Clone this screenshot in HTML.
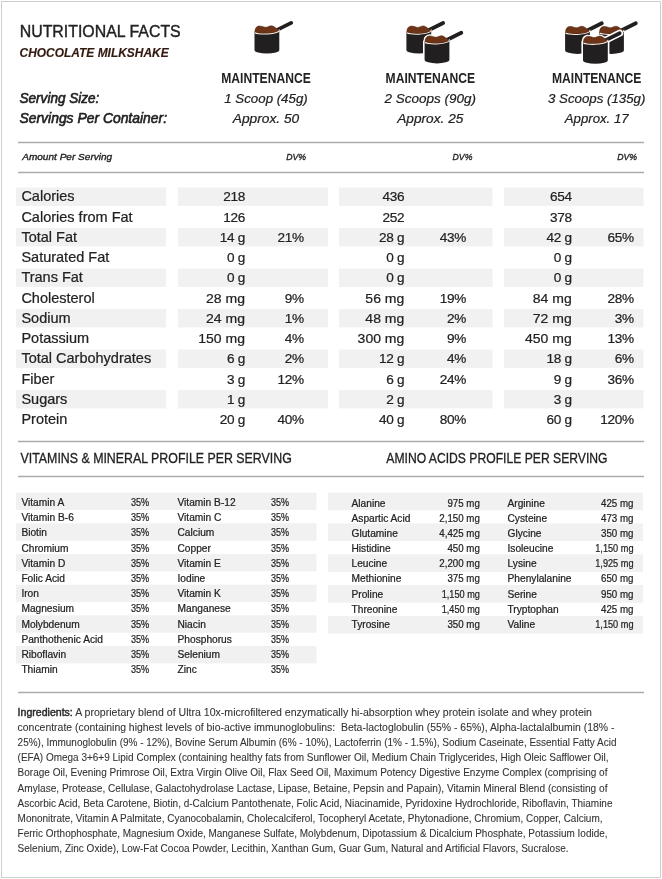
<!DOCTYPE html>
<html><head><meta charset="utf-8"><title>Nutritional Facts</title>
<style>
html,body{margin:0;padding:0;background:#fff;}
body{width:662px;height:879px;overflow:hidden;font-family:"Liberation Sans", sans-serif;}
svg{display:block;font-family:"Liberation Sans", sans-serif;will-change:transform;}
</style></head>
<body>
<svg width="662" height="879" viewBox="0 0 662 879" fill="#222">

<rect x="1.5" y="1.5" width="659" height="876" fill="none" stroke="#cfcfcf" stroke-width="1"/>
<text x="19.70" y="36.75" font-size="16.8" textLength="161.00" lengthAdjust="spacingAndGlyphs" stroke="#222" stroke-width="0.4">NUTRITIONAL FACTS</text>
<text x="19.60" y="57.40" font-size="13.2" font-weight="bold" font-style="italic" fill="#33190f" textLength="149.00" lengthAdjust="spacingAndGlyphs" stroke="#33190f" stroke-width="0.15">CHOCOLATE MILKSHAKE</text>
<text x="19.50" y="103.00" font-size="13.8" font-style="italic" textLength="79.90" lengthAdjust="spacingAndGlyphs" stroke="#222" stroke-width="0.6">Serving Size:</text>
<text x="19.50" y="122.60" font-size="13.8" font-style="italic" textLength="147.50" lengthAdjust="spacingAndGlyphs" stroke="#222" stroke-width="0.6">Servings Per Container:</text>
<text x="266.00" y="82.80" font-size="13.8" font-weight="bold" text-anchor="middle" textLength="89.50" lengthAdjust="spacingAndGlyphs">MAINTENANCE</text>
<text x="430.30" y="82.80" font-size="13.8" font-weight="bold" text-anchor="middle" textLength="89.50" lengthAdjust="spacingAndGlyphs">MAINTENANCE</text>
<text x="596.70" y="82.80" font-size="13.8" font-weight="bold" text-anchor="middle" textLength="89.50" lengthAdjust="spacingAndGlyphs">MAINTENANCE</text>
<text x="266.00" y="103.00" font-size="13.4" font-style="italic" text-anchor="middle" textLength="83.40" lengthAdjust="spacingAndGlyphs" stroke="#222" stroke-width="0.22">1 Scoop (45g)</text>
<text x="430.30" y="103.00" font-size="13.4" font-style="italic" text-anchor="middle" textLength="91.50" lengthAdjust="spacingAndGlyphs" stroke="#222" stroke-width="0.22">2 Scoops (90g)</text>
<text x="596.70" y="103.00" font-size="13.4" font-style="italic" text-anchor="middle" textLength="97.40" lengthAdjust="spacingAndGlyphs" stroke="#222" stroke-width="0.22">3 Scoops (135g)</text>
<text x="266.00" y="123.40" font-size="13.4" font-style="italic" text-anchor="middle" textLength="66.50" lengthAdjust="spacingAndGlyphs" stroke="#222" stroke-width="0.22">Approx. 50</text>
<text x="430.30" y="123.40" font-size="13.4" font-style="italic" text-anchor="middle" textLength="66.10" lengthAdjust="spacingAndGlyphs" stroke="#222" stroke-width="0.22">Approx. 25</text>
<text x="596.70" y="123.40" font-size="13.4" font-style="italic" text-anchor="middle" textLength="63.80" lengthAdjust="spacingAndGlyphs" stroke="#222" stroke-width="0.22">Approx. 17</text>
<rect x="18" y="141" width="626" height="1" fill="#ebebeb"/>
<rect x="18" y="143" width="626" height="1" fill="#ececec"/>
<rect x="18" y="142" width="626" height="1" fill="#aaaaaa"/>
<rect x="18" y="171" width="626" height="1" fill="#ebebeb"/>
<rect x="18" y="173" width="626" height="1" fill="#ececec"/>
<rect x="18" y="172" width="626" height="1" fill="#aaaaaa"/>
<text x="22.20" y="159.60" font-size="9.6" font-style="italic" textLength="90.00" lengthAdjust="spacingAndGlyphs" stroke="#222" stroke-width="0.35">Amount Per Serving</text>
<text x="306.00" y="159.60" font-size="9.6" font-style="italic" text-anchor="end" textLength="19.80" lengthAdjust="spacingAndGlyphs" stroke="#222" stroke-width="0.35">DV%</text>
<text x="472.40" y="159.60" font-size="9.6" font-style="italic" text-anchor="end" textLength="19.80" lengthAdjust="spacingAndGlyphs" stroke="#222" stroke-width="0.35">DV%</text>
<text x="637.00" y="159.60" font-size="9.6" font-style="italic" text-anchor="end" textLength="19.80" lengthAdjust="spacingAndGlyphs" stroke="#222" stroke-width="0.35">DV%</text>
<rect x="16" y="187.6" width="150" height="18.3" fill="#f1f1f1"/>
<rect x="178" y="187.6" width="150" height="18.3" fill="#f1f1f1"/>
<rect x="339" y="187.6" width="153.5" height="18.3" fill="#f1f1f1"/>
<rect x="504" y="187.6" width="139.5" height="18.3" fill="#f1f1f1"/>
<rect x="16" y="228.1" width="150" height="18.3" fill="#f1f1f1"/>
<rect x="178" y="228.1" width="150" height="18.3" fill="#f1f1f1"/>
<rect x="339" y="228.1" width="153.5" height="18.3" fill="#f1f1f1"/>
<rect x="504" y="228.1" width="139.5" height="18.3" fill="#f1f1f1"/>
<rect x="16" y="268.6" width="150" height="18.3" fill="#f1f1f1"/>
<rect x="178" y="268.6" width="150" height="18.3" fill="#f1f1f1"/>
<rect x="339" y="268.6" width="153.5" height="18.3" fill="#f1f1f1"/>
<rect x="504" y="268.6" width="139.5" height="18.3" fill="#f1f1f1"/>
<rect x="16" y="309.1" width="150" height="18.3" fill="#f1f1f1"/>
<rect x="178" y="309.1" width="150" height="18.3" fill="#f1f1f1"/>
<rect x="339" y="309.1" width="153.5" height="18.3" fill="#f1f1f1"/>
<rect x="504" y="309.1" width="139.5" height="18.3" fill="#f1f1f1"/>
<rect x="16" y="349.6" width="150" height="18.3" fill="#f1f1f1"/>
<rect x="178" y="349.6" width="150" height="18.3" fill="#f1f1f1"/>
<rect x="339" y="349.6" width="153.5" height="18.3" fill="#f1f1f1"/>
<rect x="504" y="349.6" width="139.5" height="18.3" fill="#f1f1f1"/>
<rect x="16" y="390.1" width="150" height="18.3" fill="#f1f1f1"/>
<rect x="178" y="390.1" width="150" height="18.3" fill="#f1f1f1"/>
<rect x="339" y="390.1" width="153.5" height="18.3" fill="#f1f1f1"/>
<rect x="504" y="390.1" width="139.5" height="18.3" fill="#f1f1f1"/>
<text x="21.40" y="201.30" font-size="14.5" stroke="#222" stroke-width="0.22">Calories</text>
<text x="245.00" y="201.30" font-size="13.6" text-anchor="end" letter-spacing="-0.3" stroke="#222" stroke-width="0.22">218</text>
<text x="404.30" y="201.30" font-size="13.6" text-anchor="end" letter-spacing="-0.3" stroke="#222" stroke-width="0.22">436</text>
<text x="571.70" y="201.30" font-size="13.6" text-anchor="end" letter-spacing="-0.3" stroke="#222" stroke-width="0.22">654</text>
<text x="21.40" y="221.57" font-size="14.5" stroke="#222" stroke-width="0.22">Calories from Fat</text>
<text x="245.00" y="221.57" font-size="13.6" text-anchor="end" letter-spacing="-0.3" stroke="#222" stroke-width="0.22">126</text>
<text x="404.30" y="221.57" font-size="13.6" text-anchor="end" letter-spacing="-0.3" stroke="#222" stroke-width="0.22">252</text>
<text x="571.70" y="221.57" font-size="13.6" text-anchor="end" letter-spacing="-0.3" stroke="#222" stroke-width="0.22">378</text>
<text x="21.40" y="241.84" font-size="14.5" stroke="#222" stroke-width="0.22">Total Fat</text>
<text x="245.00" y="241.84" font-size="13.6" text-anchor="end" letter-spacing="-0.3" stroke="#222" stroke-width="0.22">14 g</text>
<text x="303.70" y="241.84" font-size="13.6" text-anchor="end" letter-spacing="-0.3" stroke="#222" stroke-width="0.22">21%</text>
<text x="404.30" y="241.84" font-size="13.6" text-anchor="end" letter-spacing="-0.3" stroke="#222" stroke-width="0.22">28 g</text>
<text x="466.00" y="241.84" font-size="13.6" text-anchor="end" letter-spacing="-0.3" stroke="#222" stroke-width="0.22">43%</text>
<text x="571.70" y="241.84" font-size="13.6" text-anchor="end" letter-spacing="-0.3" stroke="#222" stroke-width="0.22">42 g</text>
<text x="633.80" y="241.84" font-size="13.6" text-anchor="end" letter-spacing="-0.3" stroke="#222" stroke-width="0.22">65%</text>
<text x="21.40" y="262.11" font-size="14.5" stroke="#222" stroke-width="0.22">Saturated Fat</text>
<text x="245.00" y="262.11" font-size="13.6" text-anchor="end" letter-spacing="-0.3" stroke="#222" stroke-width="0.22">0 g</text>
<text x="404.30" y="262.11" font-size="13.6" text-anchor="end" letter-spacing="-0.3" stroke="#222" stroke-width="0.22">0 g</text>
<text x="571.70" y="262.11" font-size="13.6" text-anchor="end" letter-spacing="-0.3" stroke="#222" stroke-width="0.22">0 g</text>
<text x="21.40" y="282.38" font-size="14.5" stroke="#222" stroke-width="0.22">Trans Fat</text>
<text x="245.00" y="282.38" font-size="13.6" text-anchor="end" letter-spacing="-0.3" stroke="#222" stroke-width="0.22">0 g</text>
<text x="404.30" y="282.38" font-size="13.6" text-anchor="end" letter-spacing="-0.3" stroke="#222" stroke-width="0.22">0 g</text>
<text x="571.70" y="282.38" font-size="13.6" text-anchor="end" letter-spacing="-0.3" stroke="#222" stroke-width="0.22">0 g</text>
<text x="21.40" y="302.65" font-size="14.5" stroke="#222" stroke-width="0.22">Cholesterol</text>
<text x="245.00" y="302.65" font-size="13.6" text-anchor="end" textLength="38.91" lengthAdjust="spacingAndGlyphs" stroke="#222" stroke-width="0.22">28 mg</text>
<text x="303.70" y="302.65" font-size="13.6" text-anchor="end" letter-spacing="-0.3" stroke="#222" stroke-width="0.22">9%</text>
<text x="404.30" y="302.65" font-size="13.6" text-anchor="end" textLength="38.91" lengthAdjust="spacingAndGlyphs" stroke="#222" stroke-width="0.22">56 mg</text>
<text x="466.00" y="302.65" font-size="13.6" text-anchor="end" letter-spacing="-0.3" stroke="#222" stroke-width="0.22">19%</text>
<text x="571.70" y="302.65" font-size="13.6" text-anchor="end" textLength="38.91" lengthAdjust="spacingAndGlyphs" stroke="#222" stroke-width="0.22">84 mg</text>
<text x="633.80" y="302.65" font-size="13.6" text-anchor="end" letter-spacing="-0.3" stroke="#222" stroke-width="0.22">28%</text>
<text x="21.40" y="322.92" font-size="14.5" stroke="#222" stroke-width="0.22">Sodium</text>
<text x="245.00" y="322.92" font-size="13.6" text-anchor="end" textLength="38.91" lengthAdjust="spacingAndGlyphs" stroke="#222" stroke-width="0.22">24 mg</text>
<text x="303.70" y="322.92" font-size="13.6" text-anchor="end" letter-spacing="-0.3" stroke="#222" stroke-width="0.22">1%</text>
<text x="404.30" y="322.92" font-size="13.6" text-anchor="end" textLength="38.91" lengthAdjust="spacingAndGlyphs" stroke="#222" stroke-width="0.22">48 mg</text>
<text x="466.00" y="322.92" font-size="13.6" text-anchor="end" letter-spacing="-0.3" stroke="#222" stroke-width="0.22">2%</text>
<text x="571.70" y="322.92" font-size="13.6" text-anchor="end" textLength="38.91" lengthAdjust="spacingAndGlyphs" stroke="#222" stroke-width="0.22">72 mg</text>
<text x="633.80" y="322.92" font-size="13.6" text-anchor="end" letter-spacing="-0.3" stroke="#222" stroke-width="0.22">3%</text>
<text x="21.40" y="343.19" font-size="14.5" stroke="#222" stroke-width="0.22">Potassium</text>
<text x="245.00" y="343.19" font-size="13.6" text-anchor="end" textLength="46.70" lengthAdjust="spacingAndGlyphs" stroke="#222" stroke-width="0.22">150 mg</text>
<text x="303.70" y="343.19" font-size="13.6" text-anchor="end" letter-spacing="-0.3" stroke="#222" stroke-width="0.22">4%</text>
<text x="404.30" y="343.19" font-size="13.6" text-anchor="end" textLength="46.70" lengthAdjust="spacingAndGlyphs" stroke="#222" stroke-width="0.22">300 mg</text>
<text x="466.00" y="343.19" font-size="13.6" text-anchor="end" letter-spacing="-0.3" stroke="#222" stroke-width="0.22">9%</text>
<text x="571.70" y="343.19" font-size="13.6" text-anchor="end" textLength="46.70" lengthAdjust="spacingAndGlyphs" stroke="#222" stroke-width="0.22">450 mg</text>
<text x="633.80" y="343.19" font-size="13.6" text-anchor="end" letter-spacing="-0.3" stroke="#222" stroke-width="0.22">13%</text>
<text x="21.40" y="363.46" font-size="14.5" stroke="#222" stroke-width="0.22">Total Carbohydrates</text>
<text x="245.00" y="363.46" font-size="13.6" text-anchor="end" letter-spacing="-0.3" stroke="#222" stroke-width="0.22">6 g</text>
<text x="303.70" y="363.46" font-size="13.6" text-anchor="end" letter-spacing="-0.3" stroke="#222" stroke-width="0.22">2%</text>
<text x="404.30" y="363.46" font-size="13.6" text-anchor="end" letter-spacing="-0.3" stroke="#222" stroke-width="0.22">12 g</text>
<text x="466.00" y="363.46" font-size="13.6" text-anchor="end" letter-spacing="-0.3" stroke="#222" stroke-width="0.22">4%</text>
<text x="571.70" y="363.46" font-size="13.6" text-anchor="end" letter-spacing="-0.3" stroke="#222" stroke-width="0.22">18 g</text>
<text x="633.80" y="363.46" font-size="13.6" text-anchor="end" letter-spacing="-0.3" stroke="#222" stroke-width="0.22">6%</text>
<text x="21.40" y="383.73" font-size="14.5" stroke="#222" stroke-width="0.22">Fiber</text>
<text x="245.00" y="383.73" font-size="13.6" text-anchor="end" letter-spacing="-0.3" stroke="#222" stroke-width="0.22">3 g</text>
<text x="303.70" y="383.73" font-size="13.6" text-anchor="end" letter-spacing="-0.3" stroke="#222" stroke-width="0.22">12%</text>
<text x="404.30" y="383.73" font-size="13.6" text-anchor="end" letter-spacing="-0.3" stroke="#222" stroke-width="0.22">6 g</text>
<text x="466.00" y="383.73" font-size="13.6" text-anchor="end" letter-spacing="-0.3" stroke="#222" stroke-width="0.22">24%</text>
<text x="571.70" y="383.73" font-size="13.6" text-anchor="end" letter-spacing="-0.3" stroke="#222" stroke-width="0.22">9 g</text>
<text x="633.80" y="383.73" font-size="13.6" text-anchor="end" letter-spacing="-0.3" stroke="#222" stroke-width="0.22">36%</text>
<text x="21.40" y="404.00" font-size="14.5" stroke="#222" stroke-width="0.22">Sugars</text>
<text x="245.00" y="404.00" font-size="13.6" text-anchor="end" letter-spacing="-0.3" stroke="#222" stroke-width="0.22">1 g</text>
<text x="404.30" y="404.00" font-size="13.6" text-anchor="end" letter-spacing="-0.3" stroke="#222" stroke-width="0.22">2 g</text>
<text x="571.70" y="404.00" font-size="13.6" text-anchor="end" letter-spacing="-0.3" stroke="#222" stroke-width="0.22">3 g</text>
<text x="21.40" y="424.27" font-size="14.5" stroke="#222" stroke-width="0.22">Protein</text>
<text x="245.00" y="424.27" font-size="13.6" text-anchor="end" letter-spacing="-0.3" stroke="#222" stroke-width="0.22">20 g</text>
<text x="303.70" y="424.27" font-size="13.6" text-anchor="end" letter-spacing="-0.3" stroke="#222" stroke-width="0.22">40%</text>
<text x="404.30" y="424.27" font-size="13.6" text-anchor="end" letter-spacing="-0.3" stroke="#222" stroke-width="0.22">40 g</text>
<text x="466.00" y="424.27" font-size="13.6" text-anchor="end" letter-spacing="-0.3" stroke="#222" stroke-width="0.22">80%</text>
<text x="571.70" y="424.27" font-size="13.6" text-anchor="end" letter-spacing="-0.3" stroke="#222" stroke-width="0.22">60 g</text>
<text x="633.80" y="424.27" font-size="13.6" text-anchor="end" letter-spacing="-0.3" stroke="#222" stroke-width="0.22">120%</text>
<rect x="18" y="440" width="626" height="1" fill="#ebebeb"/>
<rect x="18" y="442" width="626" height="1" fill="#ececec"/>
<rect x="18" y="441" width="626" height="1" fill="#aaaaaa"/>
<rect x="18" y="475" width="626" height="1" fill="#ebebeb"/>
<rect x="18" y="477" width="626" height="1" fill="#ececec"/>
<rect x="18" y="476" width="626" height="1" fill="#aaaaaa"/>
<text x="20.50" y="463.30" font-size="14.2" textLength="271.30" lengthAdjust="spacingAndGlyphs" stroke="#222" stroke-width="0.3">VITAMINS &amp; MINERAL PROFILE PER SERVING</text>
<text x="386.30" y="463.40" font-size="14.2" textLength="221.20" lengthAdjust="spacingAndGlyphs" stroke="#222" stroke-width="0.3">AMINO ACIDS PROFILE PER SERVING</text>
<rect x="16" y="492.6" width="300.5" height="17.4" fill="#f1f1f1"/>
<rect x="16" y="523.28" width="300.5" height="17.4" fill="#f1f1f1"/>
<rect x="16" y="553.96" width="300.5" height="17.4" fill="#f1f1f1"/>
<rect x="16" y="584.64" width="300.5" height="17.4" fill="#f1f1f1"/>
<rect x="16" y="615.32" width="300.5" height="17.4" fill="#f1f1f1"/>
<rect x="16" y="646.0" width="300.5" height="17.4" fill="#f1f1f1"/>
<text x="21.40" y="505.90" font-size="10.2" stroke="#222" stroke-width="0.22">Vitamin A</text>
<text x="131.00" y="505.90" font-size="10.2" textLength="18.20" lengthAdjust="spacingAndGlyphs" stroke="#222" stroke-width="0.22">35%</text>
<text x="177.50" y="505.90" font-size="10.2" stroke="#222" stroke-width="0.22">Vitamin B-12</text>
<text x="271.00" y="505.90" font-size="10.2" textLength="18.00" lengthAdjust="spacingAndGlyphs" stroke="#222" stroke-width="0.22">35%</text>
<text x="21.40" y="521.11" font-size="10.2" stroke="#222" stroke-width="0.22">Vitamin B-6</text>
<text x="131.00" y="521.11" font-size="10.2" textLength="18.20" lengthAdjust="spacingAndGlyphs" stroke="#222" stroke-width="0.22">35%</text>
<text x="177.50" y="521.11" font-size="10.2" stroke="#222" stroke-width="0.22">Vitamin C</text>
<text x="271.00" y="521.11" font-size="10.2" textLength="18.00" lengthAdjust="spacingAndGlyphs" stroke="#222" stroke-width="0.22">35%</text>
<text x="21.40" y="536.32" font-size="10.2" stroke="#222" stroke-width="0.22">Biotin</text>
<text x="131.00" y="536.32" font-size="10.2" textLength="18.20" lengthAdjust="spacingAndGlyphs" stroke="#222" stroke-width="0.22">35%</text>
<text x="177.50" y="536.32" font-size="10.2" stroke="#222" stroke-width="0.22">Calcium</text>
<text x="271.00" y="536.32" font-size="10.2" textLength="18.00" lengthAdjust="spacingAndGlyphs" stroke="#222" stroke-width="0.22">35%</text>
<text x="21.40" y="551.53" font-size="10.2" stroke="#222" stroke-width="0.22">Chromium</text>
<text x="131.00" y="551.53" font-size="10.2" textLength="18.20" lengthAdjust="spacingAndGlyphs" stroke="#222" stroke-width="0.22">35%</text>
<text x="177.50" y="551.53" font-size="10.2" stroke="#222" stroke-width="0.22">Copper</text>
<text x="271.00" y="551.53" font-size="10.2" textLength="18.00" lengthAdjust="spacingAndGlyphs" stroke="#222" stroke-width="0.22">35%</text>
<text x="21.40" y="566.74" font-size="10.2" stroke="#222" stroke-width="0.22">Vitamin D</text>
<text x="131.00" y="566.74" font-size="10.2" textLength="18.20" lengthAdjust="spacingAndGlyphs" stroke="#222" stroke-width="0.22">35%</text>
<text x="177.50" y="566.74" font-size="10.2" stroke="#222" stroke-width="0.22">Vitamin E</text>
<text x="271.00" y="566.74" font-size="10.2" textLength="18.00" lengthAdjust="spacingAndGlyphs" stroke="#222" stroke-width="0.22">35%</text>
<text x="21.40" y="581.95" font-size="10.2" stroke="#222" stroke-width="0.22">Folic Acid</text>
<text x="131.00" y="581.95" font-size="10.2" textLength="18.20" lengthAdjust="spacingAndGlyphs" stroke="#222" stroke-width="0.22">35%</text>
<text x="177.50" y="581.95" font-size="10.2" stroke="#222" stroke-width="0.22">Iodine</text>
<text x="271.00" y="581.95" font-size="10.2" textLength="18.00" lengthAdjust="spacingAndGlyphs" stroke="#222" stroke-width="0.22">35%</text>
<text x="21.40" y="597.16" font-size="10.2" stroke="#222" stroke-width="0.22">Iron</text>
<text x="131.00" y="597.16" font-size="10.2" textLength="18.20" lengthAdjust="spacingAndGlyphs" stroke="#222" stroke-width="0.22">35%</text>
<text x="177.50" y="597.16" font-size="10.2" stroke="#222" stroke-width="0.22">Vitamin K</text>
<text x="271.00" y="597.16" font-size="10.2" textLength="18.00" lengthAdjust="spacingAndGlyphs" stroke="#222" stroke-width="0.22">35%</text>
<text x="21.40" y="612.37" font-size="10.2" stroke="#222" stroke-width="0.22">Magnesium</text>
<text x="131.00" y="612.37" font-size="10.2" textLength="18.20" lengthAdjust="spacingAndGlyphs" stroke="#222" stroke-width="0.22">35%</text>
<text x="177.50" y="612.37" font-size="10.2" stroke="#222" stroke-width="0.22">Manganese</text>
<text x="271.00" y="612.37" font-size="10.2" textLength="18.00" lengthAdjust="spacingAndGlyphs" stroke="#222" stroke-width="0.22">35%</text>
<text x="21.40" y="627.58" font-size="10.2" stroke="#222" stroke-width="0.22">Molybdenum</text>
<text x="131.00" y="627.58" font-size="10.2" textLength="18.20" lengthAdjust="spacingAndGlyphs" stroke="#222" stroke-width="0.22">35%</text>
<text x="177.50" y="627.58" font-size="10.2" stroke="#222" stroke-width="0.22">Niacin</text>
<text x="271.00" y="627.58" font-size="10.2" textLength="18.00" lengthAdjust="spacingAndGlyphs" stroke="#222" stroke-width="0.22">35%</text>
<text x="21.40" y="642.79" font-size="10.2" stroke="#222" stroke-width="0.22">Panthothenic Acid</text>
<text x="131.00" y="642.79" font-size="10.2" textLength="18.20" lengthAdjust="spacingAndGlyphs" stroke="#222" stroke-width="0.22">35%</text>
<text x="177.50" y="642.79" font-size="10.2" stroke="#222" stroke-width="0.22">Phosphorus</text>
<text x="271.00" y="642.79" font-size="10.2" textLength="18.00" lengthAdjust="spacingAndGlyphs" stroke="#222" stroke-width="0.22">35%</text>
<text x="21.40" y="658.00" font-size="10.2" stroke="#222" stroke-width="0.22">Riboflavin</text>
<text x="131.00" y="658.00" font-size="10.2" textLength="18.20" lengthAdjust="spacingAndGlyphs" stroke="#222" stroke-width="0.22">35%</text>
<text x="177.50" y="658.00" font-size="10.2" stroke="#222" stroke-width="0.22">Selenium</text>
<text x="271.00" y="658.00" font-size="10.2" textLength="18.00" lengthAdjust="spacingAndGlyphs" stroke="#222" stroke-width="0.22">35%</text>
<text x="21.40" y="673.21" font-size="10.2" stroke="#222" stroke-width="0.22">Thiamin</text>
<text x="131.00" y="673.21" font-size="10.2" textLength="18.20" lengthAdjust="spacingAndGlyphs" stroke="#222" stroke-width="0.22">35%</text>
<text x="177.50" y="673.21" font-size="10.2" stroke="#222" stroke-width="0.22">Zinc</text>
<text x="271.00" y="673.21" font-size="10.2" textLength="18.00" lengthAdjust="spacingAndGlyphs" stroke="#222" stroke-width="0.22">35%</text>
<rect x="328" y="492.6" width="315" height="17.6" fill="#f1f1f1"/>
<rect x="328" y="523.44" width="315" height="17.6" fill="#f1f1f1"/>
<rect x="328" y="554.28" width="315" height="17.6" fill="#f1f1f1"/>
<rect x="328" y="585.12" width="315" height="17.6" fill="#f1f1f1"/>
<rect x="328" y="615.96" width="315" height="17.6" fill="#f1f1f1"/>
<text x="351.50" y="506.60" font-size="10.2" stroke="#222" stroke-width="0.22">Alanine</text>
<text x="479.90" y="506.60" font-size="10.2" text-anchor="end" textLength="32.45" lengthAdjust="spacingAndGlyphs" stroke="#222" stroke-width="0.22">975 mg</text>
<text x="507.50" y="506.60" font-size="10.2" stroke="#222" stroke-width="0.22">Arginine</text>
<text x="633.50" y="506.60" font-size="10.2" text-anchor="end" textLength="32.45" lengthAdjust="spacingAndGlyphs" stroke="#222" stroke-width="0.22">425 mg</text>
<text x="351.50" y="521.75" font-size="10.2" stroke="#222" stroke-width="0.22">Aspartic Acid</text>
<text x="479.90" y="521.75" font-size="10.2" text-anchor="end" textLength="40.56" lengthAdjust="spacingAndGlyphs" stroke="#222" stroke-width="0.22">2,150 mg</text>
<text x="507.50" y="521.75" font-size="10.2" stroke="#222" stroke-width="0.22">Cysteine</text>
<text x="633.50" y="521.75" font-size="10.2" text-anchor="end" textLength="32.45" lengthAdjust="spacingAndGlyphs" stroke="#222" stroke-width="0.22">473 mg</text>
<text x="351.50" y="536.90" font-size="10.2" stroke="#222" stroke-width="0.22">Glutamine</text>
<text x="479.90" y="536.90" font-size="10.2" text-anchor="end" textLength="40.56" lengthAdjust="spacingAndGlyphs" stroke="#222" stroke-width="0.22">4,425 mg</text>
<text x="507.50" y="536.90" font-size="10.2" stroke="#222" stroke-width="0.22">Glycine</text>
<text x="633.50" y="536.90" font-size="10.2" text-anchor="end" textLength="32.45" lengthAdjust="spacingAndGlyphs" stroke="#222" stroke-width="0.22">350 mg</text>
<text x="351.50" y="552.05" font-size="10.2" stroke="#222" stroke-width="0.22">Histidine</text>
<text x="479.90" y="552.05" font-size="10.2" text-anchor="end" textLength="32.45" lengthAdjust="spacingAndGlyphs" stroke="#222" stroke-width="0.22">450 mg</text>
<text x="507.50" y="552.05" font-size="10.2" stroke="#222" stroke-width="0.22">Isoleucine</text>
<text x="633.50" y="552.05" font-size="10.2" text-anchor="end" textLength="38.23" lengthAdjust="spacingAndGlyphs" stroke="#222" stroke-width="0.22">1,150 mg</text>
<text x="351.50" y="567.20" font-size="10.2" stroke="#222" stroke-width="0.22">Leucine</text>
<text x="479.90" y="567.20" font-size="10.2" text-anchor="end" textLength="40.56" lengthAdjust="spacingAndGlyphs" stroke="#222" stroke-width="0.22">2,200 mg</text>
<text x="507.50" y="567.20" font-size="10.2" stroke="#222" stroke-width="0.22">Lysine</text>
<text x="633.50" y="567.20" font-size="10.2" text-anchor="end" textLength="38.23" lengthAdjust="spacingAndGlyphs" stroke="#222" stroke-width="0.22">1,925 mg</text>
<text x="351.50" y="582.35" font-size="10.2" stroke="#222" stroke-width="0.22">Methionine</text>
<text x="479.90" y="582.35" font-size="10.2" text-anchor="end" textLength="32.45" lengthAdjust="spacingAndGlyphs" stroke="#222" stroke-width="0.22">375 mg</text>
<text x="507.50" y="582.35" font-size="10.2" stroke="#222" stroke-width="0.22">Phenylalanine</text>
<text x="633.50" y="582.35" font-size="10.2" text-anchor="end" textLength="32.45" lengthAdjust="spacingAndGlyphs" stroke="#222" stroke-width="0.22">650 mg</text>
<text x="351.50" y="597.50" font-size="10.2" stroke="#222" stroke-width="0.22">Proline</text>
<text x="479.90" y="597.50" font-size="10.2" text-anchor="end" textLength="38.23" lengthAdjust="spacingAndGlyphs" stroke="#222" stroke-width="0.22">1,150 mg</text>
<text x="507.50" y="597.50" font-size="10.2" stroke="#222" stroke-width="0.22">Serine</text>
<text x="633.50" y="597.50" font-size="10.2" text-anchor="end" textLength="32.45" lengthAdjust="spacingAndGlyphs" stroke="#222" stroke-width="0.22">950 mg</text>
<text x="351.50" y="612.65" font-size="10.2" stroke="#222" stroke-width="0.22">Threonine</text>
<text x="479.90" y="612.65" font-size="10.2" text-anchor="end" textLength="38.23" lengthAdjust="spacingAndGlyphs" stroke="#222" stroke-width="0.22">1,450 mg</text>
<text x="507.50" y="612.65" font-size="10.2" stroke="#222" stroke-width="0.22">Tryptophan</text>
<text x="633.50" y="612.65" font-size="10.2" text-anchor="end" textLength="32.45" lengthAdjust="spacingAndGlyphs" stroke="#222" stroke-width="0.22">425 mg</text>
<text x="351.50" y="627.80" font-size="10.2" stroke="#222" stroke-width="0.22">Tyrosine</text>
<text x="479.90" y="627.80" font-size="10.2" text-anchor="end" textLength="32.45" lengthAdjust="spacingAndGlyphs" stroke="#222" stroke-width="0.22">350 mg</text>
<text x="507.50" y="627.80" font-size="10.2" stroke="#222" stroke-width="0.22">Valine</text>
<text x="633.50" y="627.80" font-size="10.2" text-anchor="end" textLength="38.23" lengthAdjust="spacingAndGlyphs" stroke="#222" stroke-width="0.22">1,150 mg</text>
<rect x="18" y="691" width="626" height="1" fill="#ebebeb"/>
<rect x="18" y="693" width="626" height="1" fill="#ececec"/>
<rect x="18" y="692" width="626" height="1" fill="#aaaaaa"/>
<text x="17.6" y="715.60" font-size="10.7" fill="#333" stroke="#333" stroke-width="0.08" textLength="574.40" lengthAdjust="spacingAndGlyphs" xml:space="preserve"><tspan stroke-width="0.45" fill="#2a2a2a" stroke="#2a2a2a">Ingredients:</tspan> A proprietary blend of Ultra 10x-microfiltered enzymatically hi-absorption whey protein isolate and whey protein</text>
<text x="17.6" y="730.80" font-size="10.7" fill="#333" stroke="#333" stroke-width="0.08" textLength="596.90" lengthAdjust="spacingAndGlyphs" xml:space="preserve">concentrate (containing highest levels of bio-active immunoglobulins:  Beta-lactoglobulin (55% - 65%), Alpha-lactalalbumin (18% -</text>
<text x="17.6" y="746.00" font-size="10.7" fill="#333" stroke="#333" stroke-width="0.08" textLength="598.90" lengthAdjust="spacingAndGlyphs" xml:space="preserve">25%), Immunoglobulin (9% - 12%), Bovine Serum Albumin (6% - 10%), Lactoferrin (1% - 1.5%), Sodium Caseinate, Essential Fatty Acid</text>
<text x="17.6" y="761.20" font-size="10.7" fill="#333" stroke="#333" stroke-width="0.08" textLength="590.90" lengthAdjust="spacingAndGlyphs" xml:space="preserve">(EFA) Omega 3+6+9 Lipid Complex (containing healthy fats from Sunflower Oil, Medium Chain Triglycerides, High Oleic Safflower Oil,</text>
<text x="17.6" y="776.40" font-size="10.7" fill="#333" stroke="#333" stroke-width="0.08" textLength="589.90" lengthAdjust="spacingAndGlyphs" xml:space="preserve">Borage Oil, Evening Primrose Oil, Extra Virgin Olive Oil, Flax Seed Oil, Maximum Potency Digestive Enzyme Complex (comprising of</text>
<text x="17.6" y="791.60" font-size="10.7" fill="#333" stroke="#333" stroke-width="0.08" textLength="589.90" lengthAdjust="spacingAndGlyphs" xml:space="preserve">Amylase, Protease, Cellulase, Galactohydrolase Lactase, Lipase, Betaine, Pepsin and Papain), Vitamin Mineral Blend (consisting of</text>
<text x="17.6" y="806.80" font-size="10.7" fill="#333" stroke="#333" stroke-width="0.08" textLength="594.90" lengthAdjust="spacingAndGlyphs" xml:space="preserve">Ascorbic Acid, Beta Carotene, Biotin, d-Calcium Pantothenate, Folic Acid, Niacinamide, Pyridoxine Hydrochloride, Riboflavin, Thiamine</text>
<text x="17.6" y="822.00" font-size="10.7" fill="#333" stroke="#333" stroke-width="0.08" textLength="584.90" lengthAdjust="spacingAndGlyphs" xml:space="preserve">Mononitrate, Vitamin A Palmitate, Cyanocobalamin, Cholecalciferol, Tocopheryl Acetate, Phytonadione, Chromium, Copper, Calcium,</text>
<text x="17.6" y="837.20" font-size="10.7" fill="#333" stroke="#333" stroke-width="0.08" textLength="589.90" lengthAdjust="spacingAndGlyphs" xml:space="preserve">Ferric Orthophosphate, Magnesium Oxide, Manganese Sulfate, Molybdenum, Dipotassium &amp; Dicalcium Phosphate, Potassium Iodide,</text>
<text x="17.6" y="852.40" font-size="10.7" fill="#333" stroke="#333" stroke-width="0.08" textLength="550.90" lengthAdjust="spacingAndGlyphs" xml:space="preserve">Selenium, Zinc Oxide), Low-Fat Cocoa Powder, Lecithin, Xanthan Gum, Guar Gum, Natural and Artificial Flavors, Sucralose.</text>
<g transform="translate(254.5,25.2)"><line x1="23.2" y1="4.4" x2="36.7" y2="-2.3" stroke="#221f20" stroke-width="3.8" stroke-linecap="round"/><path d="M0,6.4 L0,24.7 A12.4,3.6 0 0 0 24.8,24.7 L24.8,3.6 Z" fill="#221f20"/><path d="M0.6,6.8 C0.3,4.2 1.2,1.6 4.2,0.9 C6.6,0.4 8.6,1.7 11,2.1 C13,2.3 14.6,0.6 16.8,0.6 C19,0.7 20.4,2.4 22.6,3.6 C24,4.4 24.8,5.2 24.3,6 C19,8.6 6,9 0.6,6.8 Z" fill="#6e3418" stroke="#4a200c" stroke-width="0.5"/><path d="M0.3,7.5 C5,9.6 19,9.4 24.2,6.3 C24.8,5.6 24.9,4.8 24.9,4.2" fill="none" stroke="#fbf0e4" stroke-width="1.05"/></g>
<g transform="translate(406.4,25.3)"><line x1="23.2" y1="4.4" x2="36.7" y2="-2.3" stroke="#221f20" stroke-width="3.8" stroke-linecap="round"/><path d="M0,6.4 L0,24.7 A12.4,3.6 0 0 0 24.8,24.7 L24.8,3.6 Z" fill="#221f20"/><path d="M0.6,6.8 C0.3,4.2 1.2,1.6 4.2,0.9 C6.6,0.4 8.6,1.7 11,2.1 C13,2.3 14.6,0.6 16.8,0.6 C19,0.7 20.4,2.4 22.6,3.6 C24,4.4 24.8,5.2 24.3,6 C19,8.6 6,9 0.6,6.8 Z" fill="#6e3418" stroke="#4a200c" stroke-width="0.5"/><path d="M0.3,7.5 C5,9.6 19,9.4 24.2,6.3 C24.8,5.6 24.9,4.8 24.9,4.2" fill="none" stroke="#fbf0e4" stroke-width="1.05"/></g>
<g transform="translate(424.6,35.1)"><g fill="#fff" stroke="#fff" stroke-width="3.2" stroke-linejoin="round"><path d="M0,6.4 L0,24.7 A12.4,3.6 0 0 0 24.8,24.7 L24.8,3.6 Z"/><path d="M0.6,6.8 C0.3,4.2 1.2,1.6 4.2,0.9 C6.6,0.4 8.6,1.7 11,2.1 C13,2.3 14.6,0.6 16.8,0.6 C19,0.7 20.4,2.4 22.6,3.6 C24,4.4 24.8,5.2 24.3,6 C19,8.6 6,9 0.6,6.8 Z"/><line x1="23.2" y1="4.4" x2="36.7" y2="-2.3" stroke-width="7" stroke-linecap="round"/></g><line x1="23.2" y1="4.4" x2="36.7" y2="-2.3" stroke="#221f20" stroke-width="3.8" stroke-linecap="round"/><path d="M0,6.4 L0,24.7 A12.4,3.6 0 0 0 24.8,24.7 L24.8,3.6 Z" fill="#221f20"/><path d="M0.6,6.8 C0.3,4.2 1.2,1.6 4.2,0.9 C6.6,0.4 8.6,1.7 11,2.1 C13,2.3 14.6,0.6 16.8,0.6 C19,0.7 20.4,2.4 22.6,3.6 C24,4.4 24.8,5.2 24.3,6 C19,8.6 6,9 0.6,6.8 Z" fill="#6e3418" stroke="#4a200c" stroke-width="0.5"/><path d="M0.3,7.5 C5,9.6 19,9.4 24.2,6.3 C24.8,5.6 24.9,4.8 24.9,4.2" fill="none" stroke="#fbf0e4" stroke-width="1.05"/></g>
<g transform="translate(565.1,25.6)"><line x1="23.2" y1="4.4" x2="36.7" y2="-2.3" stroke="#221f20" stroke-width="3.8" stroke-linecap="round"/><path d="M0,6.4 L0,24.7 A12.4,3.6 0 0 0 24.8,24.7 L24.8,3.6 Z" fill="#221f20"/><path d="M0.6,6.8 C0.3,4.2 1.2,1.6 4.2,0.9 C6.6,0.4 8.6,1.7 11,2.1 C13,2.3 14.6,0.6 16.8,0.6 C19,0.7 20.4,2.4 22.6,3.6 C24,4.4 24.8,5.2 24.3,6 C19,8.6 6,9 0.6,6.8 Z" fill="#6e3418" stroke="#4a200c" stroke-width="0.5"/><path d="M0.3,7.5 C5,9.6 19,9.4 24.2,6.3 C24.8,5.6 24.9,4.8 24.9,4.2" fill="none" stroke="#fbf0e4" stroke-width="1.05"/></g>
<g transform="translate(599.1,25.6)"><line x1="23.2" y1="4.4" x2="36.7" y2="-2.3" stroke="#221f20" stroke-width="3.8" stroke-linecap="round"/><path d="M0,6.4 L0,24.7 A12.4,3.6 0 0 0 24.8,24.7 L24.8,3.6 Z" fill="#221f20"/><path d="M0.6,6.8 C0.3,4.2 1.2,1.6 4.2,0.9 C6.6,0.4 8.6,1.7 11,2.1 C13,2.3 14.6,0.6 16.8,0.6 C19,0.7 20.4,2.4 22.6,3.6 C24,4.4 24.8,5.2 24.3,6 C19,8.6 6,9 0.6,6.8 Z" fill="#6e3418" stroke="#4a200c" stroke-width="0.5"/><path d="M0.3,7.5 C5,9.6 19,9.4 24.2,6.3 C24.8,5.6 24.9,4.8 24.9,4.2" fill="none" stroke="#fbf0e4" stroke-width="1.05"/></g>
<g transform="translate(583.0,35.5)"><g fill="#fff" stroke="#fff" stroke-width="3.2" stroke-linejoin="round"><path d="M0,6.4 L0,24.7 A12.4,3.6 0 0 0 24.8,24.7 L24.8,3.6 Z"/><path d="M0.6,6.8 C0.3,4.2 1.2,1.6 4.2,0.9 C6.6,0.4 8.6,1.7 11,2.1 C13,2.3 14.6,0.6 16.8,0.6 C19,0.7 20.4,2.4 22.6,3.6 C24,4.4 24.8,5.2 24.3,6 C19,8.6 6,9 0.6,6.8 Z"/><line x1="23.2" y1="4.4" x2="36.7" y2="-2.3" stroke-width="7" stroke-linecap="round"/></g><line x1="23.2" y1="4.4" x2="36.7" y2="-2.3" stroke="#221f20" stroke-width="3.8" stroke-linecap="round"/><path d="M0,6.4 L0,24.7 A12.4,3.6 0 0 0 24.8,24.7 L24.8,3.6 Z" fill="#221f20"/><path d="M0.6,6.8 C0.3,4.2 1.2,1.6 4.2,0.9 C6.6,0.4 8.6,1.7 11,2.1 C13,2.3 14.6,0.6 16.8,0.6 C19,0.7 20.4,2.4 22.6,3.6 C24,4.4 24.8,5.2 24.3,6 C19,8.6 6,9 0.6,6.8 Z" fill="#6e3418" stroke="#4a200c" stroke-width="0.5"/><path d="M0.3,7.5 C5,9.6 19,9.4 24.2,6.3 C24.8,5.6 24.9,4.8 24.9,4.2" fill="none" stroke="#fbf0e4" stroke-width="1.05"/></g>
</svg>
</body></html>
